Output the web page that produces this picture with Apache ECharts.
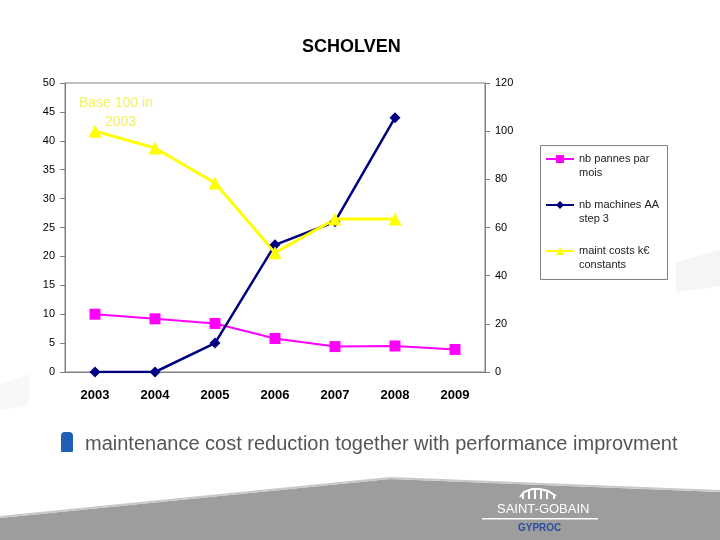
<!DOCTYPE html>
<html>
<head>
<meta charset="utf-8">
<script src="https://cdn.jsdelivr.net/npm/echarts@6/dist/echarts.min.js"></script>
<style>
  html, body { margin: 0; padding: 0; background: #fff; }
  #chart { width: 720px; height: 540px; }
</style>
</head>
<body>
<div id="chart"></div>
<script>
  // data
  var years = ['2003', '2004', '2005', '2006', '2007', '2008', '2009']
  var pannes = [10, 9.2, 8.4, 5.8, 4.4, 4.5, 3.9]
  var machines = [0, 0, 5, 22, 26, 44]
  var maintCosts = [100, 93, 78.5, 49.5, 63.5, 63.5]
  var seriesNames = ['nb pannes par\nmois', 'nb machines AA\nstep 3', 'maint costs k\u20ac\nconstants']

  var chart = echarts.init(document.getElementById('chart'))

  var axisGray = '#808080'
  var font = 'Arial, "Liberation Sans", sans-serif'

  chart.setOption({
    animation: false,
    backgroundColor: '#fff',
    textStyle: { fontFamily: font },
    grid: {
      left: 65,
      right: 235,
      top: 83,
      bottom: 168,
      show: true,
      borderColor: axisGray,
      borderWidth: 1
    },
    legend: {
      left: 545,
      top: 138,
      orient: 'vertical',
      padding: 0,
      itemGap: 4,
      itemWidth: 28,
      itemHeight: 10,
      data: seriesNames,
      // empty first line so the icon sits beside the first text line
      formatter: function(name) {
        return '\n' + name
      },
      textStyle: {
        fontSize: 11,
        color: '#222',
        lineHeight: 14
      }
    },
    xAxis: {
      type: 'category',
      data: years,
      axisLine: { lineStyle: { color: axisGray } },
      axisTick: { length: 5, lineStyle: { color: axisGray } },
      axisLabel: { fontSize: 13, fontWeight: 'bold', color: '#000', margin: 17 }
    },
    yAxis: [{
      type: 'value',
      min: 0,
      max: 50,
      interval: 5,
      splitLine: { show: false },
      axisLine: { show: true, lineStyle: { color: axisGray } },
      axisTick: { show: true, length: 5, lineStyle: { color: axisGray } },
      axisLabel: { fontSize: 11, color: '#000', margin: 10 }
    }, {
      type: 'value',
      min: 0,
      max: 120,
      interval: 20,
      position: 'right',
      splitLine: { show: false },
      axisLine: { show: true, lineStyle: { color: axisGray } },
      axisTick: { show: true, length: 5, lineStyle: { color: axisGray } },
      axisLabel: { fontSize: 11, color: '#000', margin: 10 }
    }],
    series: [{
      name: seriesNames[0],
      type: 'line',
      yAxisIndex: 0,
      data: pannes,
      symbol: 'rect',
      symbolSize: 11,
      itemStyle: { color: '#ff00ff' },
      lineStyle: { color: '#ff00ff', width: 2 }
    }, {
      name: seriesNames[1],
      type: 'line',
      yAxisIndex: 0,
      data: machines,
      symbol: 'diamond',
      symbolSize: 11,
      itemStyle: { color: '#000080' },
      lineStyle: { color: '#000080', width: 2.5 }
    }, {
      name: seriesNames[2],
      type: 'line',
      yAxisIndex: 1,
      data: maintCosts,
      symbol: 'triangle',
      symbolSize: 13,
      itemStyle: { color: '#ffff00' },
      lineStyle: { color: '#ffff00', width: 3 }
    }],
    graphic: [
      // legend frame
      { type: 'rect', left: 540, top: 145, z: -1,
        shape: { width: 127, height: 134 },
        style: { fill: '#fff', stroke: axisGray, lineWidth: 1 } },
      // title
      { type: 'text', left: 302, top: 38,
        style: { text: 'SCHOLVEN', font: 'bold 18px ' + font, fill: '#000' } },
      // annotation
      { type: 'text', left: 79, top: 96,
        style: { text: 'Base 100 in', font: '14px ' + font, fill: '#f2f25a' } },
      { type: 'text', left: 105, top: 115,
        style: { text: '2003', font: '14px ' + font, fill: '#f2f25a' } },
      // slide decoration
      { type: 'polygon', z: -10,
        shape: { points: [[0, 518], [390, 479], [720, 492], [720, 540], [0, 540]] },
        style: { fill: '#9d9d9d' } },
      { type: 'polyline', z: -9,
        shape: { points: [[0, 517], [390, 478], [720, 491]] },
        style: { stroke: '#c8c8c8', lineWidth: 2 } },
      { type: 'polygon', z: -10,
        shape: { points: [[0, 384], [30, 374], [28, 406], [0, 410]] },
        style: { fill: '#f8f8f8' } },
      { type: 'polygon', z: -10,
        shape: { points: [[676, 262], [720, 250], [720, 286], [676, 292]] },
        style: { fill: '#f5f5f5' } },
      // bullet
      { type: 'rect', left: 61, top: 432,
        shape: { width: 12, height: 20, r: [4, 4, 1, 1] },
        style: { fill: '#1f5fb4' } },
      { type: 'text', left: 85, top: 434,
        style: { text: 'maintenance cost reduction together with performance improvment',
          font: '20px ' + font, fill: '#555' } },
      // logo
      { type: 'polyline',
        shape: { points: [[520, 497], [524, 492], [532, 489], [540, 489], [548, 491], [556, 496]] },
        style: { stroke: '#fff', lineWidth: 2, fill: null } },
      { type: 'rect', left: 522, top: 494, shape: { width: 2, height: 5 }, style: { fill: '#fff' } },
      { type: 'rect', left: 528, top: 491, shape: { width: 2, height: 8 }, style: { fill: '#fff' } },
      { type: 'rect', left: 534, top: 490, shape: { width: 2, height: 9 }, style: { fill: '#fff' } },
      { type: 'rect', left: 540, top: 490, shape: { width: 2, height: 9 }, style: { fill: '#fff' } },
      { type: 'rect', left: 546, top: 492, shape: { width: 2, height: 7 }, style: { fill: '#fff' } },
      { type: 'rect', left: 553, top: 495, shape: { width: 2, height: 4 }, style: { fill: '#fff' } },
      { type: 'text', left: 497, top: 503,
        style: { text: 'SAINT-GOBAIN', font: '13px "Liberation Sans Narrow", ' + font, fill: '#fff' } },
      { type: 'rect', left: 482, top: 518, shape: { width: 116, height: 1.5 }, style: { fill: '#fff' } },
      { type: 'text', left: 518, top: 523,
        style: { text: 'GYPROC', font: 'bold 10px ' + font, fill: '#2a4f9e' } }
    ]
  })
</script>
</body>
</html>
